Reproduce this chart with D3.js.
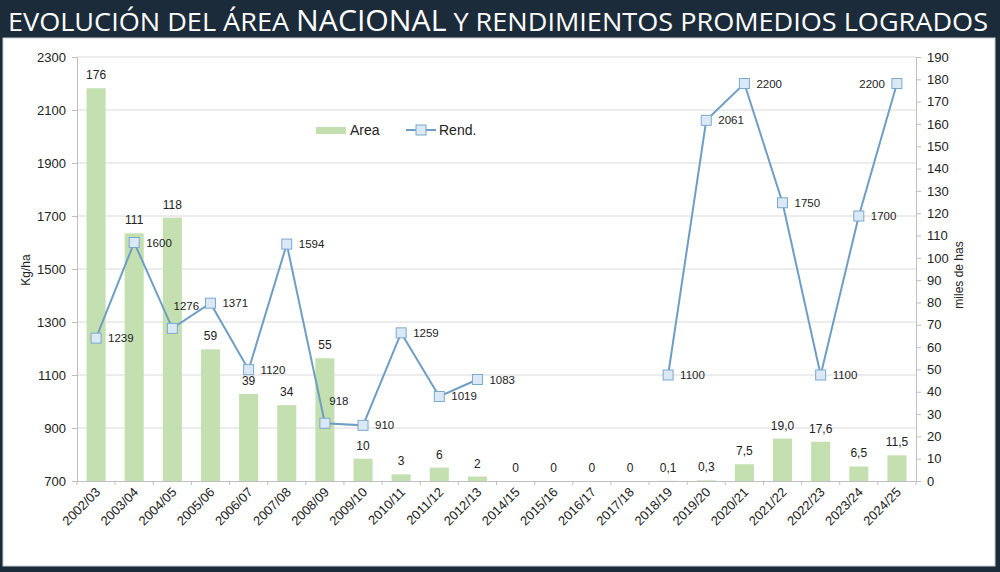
<!DOCTYPE html>
<html>
<head>
<meta charset="utf-8">
<script src="https://cdn.jsdelivr.net/npm/d3@7"></script>
<style>
  body { margin: 0; background: #1c2b3a; }
  svg { display: block; font-family: "Liberation Sans", Arial, sans-serif; }
</style>
</head>
<body>
<svg id="chart" width="1000" height="572"></svg>
<script>
// campañas
const campanas = ["2002/03", "2003/04", "2004/05", "2005/06", "2006/07", "2007/08", "2008/09",
  "2009/10", "2010/11", "2011/12", "2012/13", "2014/15", "2015/16", "2016/17", "2017/18",
  "2018/19", "2019/20", "2020/21", "2021/22", "2022/23", "2023/24", "2024/25"];

// area en miles de has
const area = [176, 111, 118, 59, 39, 34, 55, 10, 3, 6, 2, 0, 0, 0, 0, 0.1, 0.3, 7.5, 19.0, 17.6, 6.5, 11.5];
const areaLabels = ["176", "111", "118", "59", "39", "34", "55", "10", "3", "6", "2", "0", "0", "0", "0",
  "0,1", "0,3", "7,5", "19,0", "17,6", "6,5", "11,5"];

// rendimiento kg/ha (null = sin dato)
const rend = [1239, 1600, 1276, 1371, 1120, 1594, 918, 910, 1259, 1019, 1083, null, null, null, null,
  1100, 2061, 2200, 1750, 1100, 1700, 2200];

// ticks de los ejes
const leftTicks = [700, 900, 1100, 1300, 1500, 1700, 1900, 2100, 2300];
const rightTicks = d3.range(0, 200, 10);

// donde va cada etiqueta de rend. (casi todas a la derecha)
const labelSide = { 2: "up", 6: "up", 21: "left" };

const svg = d3.select("#chart");
const W = 1000, H = 572;

// panel blanco + titulo
svg.append("rect").attr("x", 3).attr("y", 38).attr("width", 992).attr("height", 528)
  .attr("fill", "#fff").attr("stroke", "#c8ced4");

const title = svg.append("text")
  .attr("x", 8).attr("y", 31)
  .attr("fill", "#fff")
  .style("font-family", "'Open Sans', sans-serif")
  .attr("textLength", 980)
  .attr("lengthAdjust", "spacingAndGlyphs");
title.append("tspan").style("font-size", "26px").text("EVOLUCIÓN DEL ÁREA ");
title.append("tspan").style("font-size", "29px").text("NACIONAL");
title.append("tspan").style("font-size", "26px").text(" Y RENDIMIENTOS PROMEDIOS LOGRADOS");

const margin = { top: 57, right: 84, bottom: 91, left: 77 };
const innerW = W - margin.left - margin.right;
const innerH = H - margin.top - margin.bottom;

const g = svg.append("g").attr("transform", `translate(${margin.left},${margin.top})`);

//  escalas
const x = d3.scaleBand().domain(campanas).range([0, innerW]).paddingInner(0.5).paddingOuter(0.25);
const yL = d3.scaleLinear().domain([700, 2300]).range([innerH, 0]);
const yR = d3.scaleLinear().domain([0, 190]).range([innerH, 0]);

//  grilla
g.append("g")
  .selectAll("line")
  .data(leftTicks.slice(1))
  .join("line")
  .attr("x1", 0).attr("x2", innerW)
  .attr("y1", d => yL(d)).attr("y2", d => yL(d))
  .attr("stroke", "#d9d9d9");

//  barras
g.append("g")
  .selectAll("rect")
  .data(area)
  .join("rect")
  .attr("x", (d, i) => x(campanas[i]))
  .attr("y", d => yR(d))
  .attr("width", x.bandwidth())
  .attr("height", d => innerH - yR(d))
  .attr("fill", "#c4e0b1");

g.append("g")
  .selectAll("text")
  .data(area)
  .join("text")
  .attr("x", (d, i) => x(campanas[i]) + x.bandwidth() / 2)
  .attr("y", d => yR(d) - 9)
  .attr("text-anchor", "middle")
  .style("font-size", "12px")
  .attr("fill", "#222")
  .text((d, i) => areaLabels[i]);

//  ejes
const axL = g.append("g").call(d3.axisLeft(yL).tickValues(leftTicks).tickFormat(d3.format("d")).tickSize(5).tickPadding(6));
const axR = g.append("g").attr("transform", `translate(${innerW},0)`)
  .call(d3.axisRight(yR).tickValues(rightTicks).tickFormat(d3.format("d")).tickSize(5).tickPadding(6));
const axB = g.append("g").attr("transform", `translate(0,${innerH})`)
  .call(d3.axisBottom(x).tickSize(0).tickFormat(""));

[axL, axR, axB].forEach(a => {
  a.select(".domain").attr("stroke", "#bfbfbf");
  a.selectAll(".tick line").attr("stroke", "#bfbfbf");
  a.selectAll("text").style("font-size", "13px").attr("fill", "#222")
    .style("font-family", "'Liberation Sans', Arial, sans-serif");
});

// marcas entre categorias
const step = x.step();
g.append("g")
  .selectAll("line")
  .data(d3.range(campanas.length + 1))
  .join("line")
  .attr("x1", i => i * step).attr("x2", i => i * step)
  .attr("y1", innerH).attr("y2", innerH + 4)
  .attr("stroke", "#bfbfbf");

// etiquetas x rotadas
g.append("g")
  .selectAll("text")
  .data(campanas)
  .join("text")
  .attr("transform", d => `translate(${x(d) + x.bandwidth() / 2 + 5},${innerH + 12}) rotate(-45)`)
  .attr("text-anchor", "end")
  .style("font-size", "13px")
  .attr("fill", "#222")
  .text(d => d);

//  linea de rend.
const pts = rend.map((d, i) => ({ v: d, i }));
const line = d3.line()
  .defined(d => d.v != null)
  .x(d => x(campanas[d.i]) + x.bandwidth() / 2)
  .y(d => yL(d.v));

g.append("path")
  .datum(pts)
  .attr("d", line)
  .attr("fill", "none")
  .attr("stroke", "#6f9ec4")
  .attr("stroke-width", 2);

const valid = pts.filter(d => d.v != null);
g.append("g")
  .selectAll("rect")
  .data(valid)
  .join("rect")
  .attr("x", d => x(campanas[d.i]) + x.bandwidth() / 2 - 5)
  .attr("y", d => yL(d.v) - 5)
  .attr("width", 10).attr("height", 10)
  .attr("fill", "#dbe9f6")
  .attr("stroke", "#7ba8cd");

g.append("g")
  .selectAll("text")
  .data(valid)
  .join("text")
  .attr("x", d => {
    const cx = x(campanas[d.i]) + x.bandwidth() / 2;
    const s = labelSide[d.i];
    if (s === "left") return cx - 12;
    if (s === "up") return cx + 14;
    return cx + 12;
  })
  .attr("y", d => yL(d.v) + (labelSide[d.i] === "up" ? -18 : 4))
  .attr("text-anchor", d => labelSide[d.i] === "left" ? "end" : (labelSide[d.i] === "up" ? "middle" : "start"))
  .style("font-size", "11.5px")
  .attr("fill", "#222")
  .text(d => d.v);

//  leyenda
const leg = svg.append("g").attr("transform", "translate(316,130)");
leg.append("rect").attr("x", 0).attr("y", -3).attr("width", 30).attr("height", 7).attr("fill", "#c4e0b1");
leg.append("text").attr("x", 34).attr("y", 5).style("font-size", "14px").attr("fill", "#222").text("Area");
leg.append("line").attr("x1", 90).attr("x2", 120).attr("y1", 0).attr("y2", 0)
  .attr("stroke", "#6f9ec4").attr("stroke-width", 2);
leg.append("rect").attr("x", 100).attr("y", -5).attr("width", 10).attr("height", 10)
  .attr("fill", "#dbe9f6").attr("stroke", "#7ba8cd");
leg.append("text").attr("x", 123).attr("y", 5).style("font-size", "14px").attr("fill", "#222").text("Rend.");

//  titulos de ejes
svg.append("text")
  .attr("transform", "translate(30,270) rotate(-90)")
  .attr("text-anchor", "middle")
  .style("font-size", "12px")
  .attr("fill", "#222")
  .text("Kg/ha");

svg.append("text")
  .attr("transform", "translate(963,275) rotate(-90)")
  .attr("text-anchor", "middle")
  .style("font-size", "12px")
  .attr("fill", "#222")
  .text("miles de has");
</script>
</body>
</html>
